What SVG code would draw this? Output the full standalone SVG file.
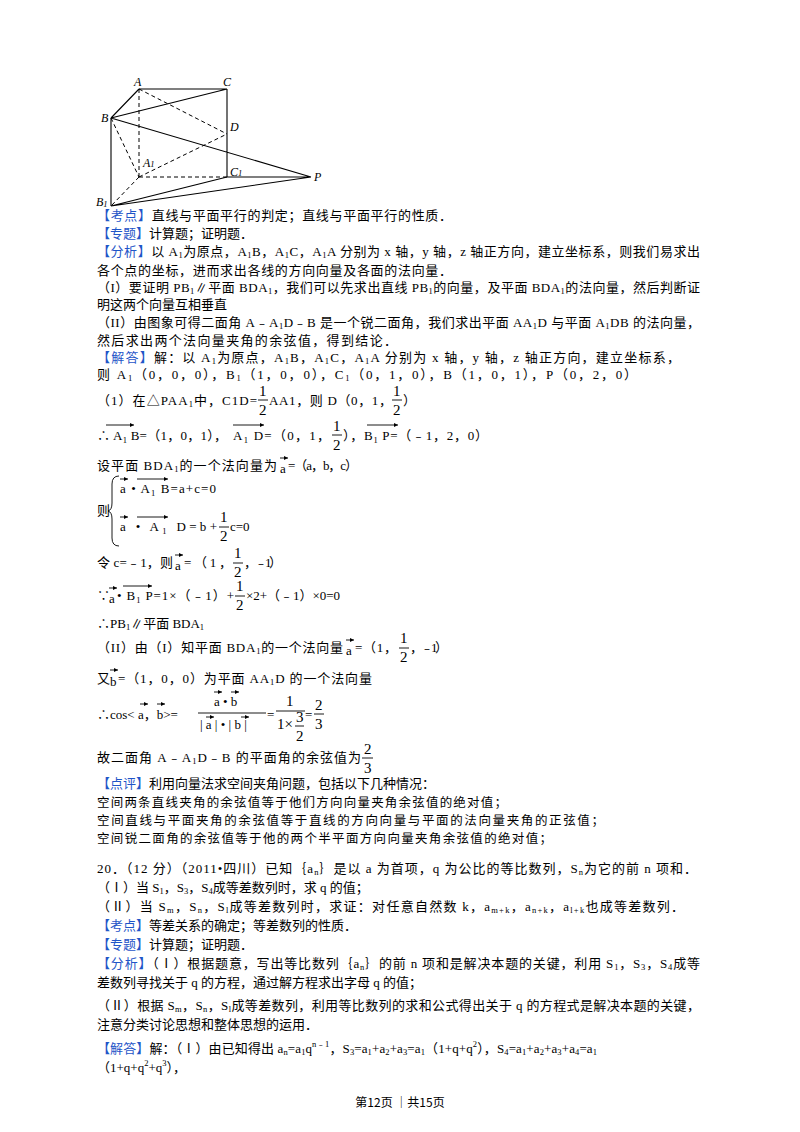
<svg xmlns="http://www.w3.org/2000/svg" width="800" height="1132" viewBox="0 0 800 1132">
<style>
text{font-family:"Liberation Serif","Noto Sans CJK SC",serif;font-size:13px;fill:#000}
.b{fill:#1f55c8}
.s{font-size:8.5px}
.f{font-size:15px}
.it{font-style:italic;font-size:12px}
.n{font-family:"Noto Sans CJK SC",sans-serif;font-size:12.5px}
.sol{stroke:#000;stroke-width:1.1;fill:none}
.das{stroke:#000;stroke-width:1;fill:none;stroke-dasharray:4 3}
.ln{stroke:#000;stroke-width:0.9;fill:none}
</style>
<rect width="800" height="1132" fill="#fff"/>
<g id="figure">
<g id="connectors">
<path class="sol" d="M139,89H227M111,118L139,89M111,118L227,89M111,118L311,177M227,89V177M227,177H311M111,118V206M111,206L227,177M111,206L311,177"/>
<path class="das" d="M139,89V177M139,89L227,134M111,118L139,177M139,177L227,134M139,177H227M139,177L111,206"/>
</g>
<g id="lbl"><text class="it" x="134" y="86">A</text><text class="it" x="223" y="86">C</text><text class="it" x="101" y="122">B</text><text class="it" x="230" y="131">D</text><text class="it" x="143" y="167">A<tspan class="s">1</tspan></text><text class="it" x="230" y="176">C<tspan class="s">1</tspan></text><text class="it" x="314" y="181">P</text><text class="it" x="96" y="206">B<tspan class="s" dy="1">1</tspan></text></g>
</g>
<g id="body">
<text x="97" y="220" textLength="355"><tspan class="b">【考点】</tspan>直线与平面平行的判定；直线与平面平行的性质．</text>
<text x="97" y="238"><tspan class="b">【专题】</tspan>计算题；证明题．</text>
<text x="97" y="256" textLength="603"><tspan class="b">【分析】</tspan>以 A<tspan class="s" dy="2">1</tspan><tspan dy="-2">为原点，A</tspan><tspan class="s" dy="2">1</tspan><tspan dy="-2">B，A</tspan><tspan class="s" dy="2">1</tspan><tspan dy="-2">C，A</tspan><tspan class="s" dy="2">1</tspan><tspan dy="-2">A 分别为 x 轴，y 轴，z 轴正方向，建立坐标系，则我们易求出</tspan></text>
<text x="97" y="275" textLength="355">各个点的坐标，进而求出各线的方向向量及各面的法向量．</text>
<text x="97" y="292" textLength="603">（I）要证明 PB<tspan class="s" dy="2">1</tspan><tspan dy="-2">∥平面 BDA</tspan><tspan class="s" dy="2">1</tspan><tspan dy="-2">，我们可以先求出直线 PB</tspan><tspan class="s" dy="2">1</tspan><tspan dy="-2">的向量，及平面 BDA</tspan><tspan class="s" dy="2">1</tspan><tspan dy="-2">的法向量，然后判断证</tspan></text>
<text x="97" y="309">明这两个向量互相垂直</text>
<text x="97" y="327" textLength="603">（II）由图象可得二面角 A﹣A<tspan class="s" dy="2">1</tspan><tspan dy="-2">D﹣B 是一个锐二面角，我们求出平面 AA</tspan><tspan class="s" dy="2">1</tspan><tspan dy="-2">D 与平面 A</tspan><tspan class="s" dy="2">1</tspan><tspan dy="-2">DB 的法向量，</tspan></text>
<text x="97" y="345" textLength="300">然后求出两个法向量夹角的余弦值，得到结论．</text>
<text x="97" y="362" textLength="583"><tspan class="b">【解答】</tspan>解：以 A<tspan class="s" dy="2">1</tspan><tspan dy="-2">为原点，A</tspan><tspan class="s" dy="2">1</tspan><tspan dy="-2">B，A</tspan><tspan class="s" dy="2">1</tspan><tspan dy="-2">C，A</tspan><tspan class="s" dy="2">1</tspan><tspan dy="-2">A 分别为 x 轴，y 轴，z 轴正方向，建立坐标系，</tspan></text>
<text x="97" y="379" textLength="540">则 A<tspan class="s" dy="2">1</tspan><tspan dy="-2">（0，0，0），B</tspan><tspan class="s" dy="2">1</tspan><tspan dy="-2">（1，0，0），C</tspan><tspan class="s" dy="2">1</tspan><tspan dy="-2">（0，1，0），B（1，0，1），P（0，2，0）</tspan></text>
<text x="97" y="405" textLength="160">（1）在△PAA<tspan class="s" dy="2">1</tspan><tspan dy="-2">中，C1D=</tspan></text>
<text class="f" x="259" y="396">1</text><path class="ln" d="M258,400H268"/><text class="f" x="259" y="415">2</text>
<text x="269" y="405" textLength="123">AA1，则 D（0，1，</text>
<text class="f" x="393" y="396">1</text><path class="ln" d="M392,400H402"/><text class="f" x="393" y="415">2</text>
<text x="403" y="405">）</text>
<text x="97" y="440" textLength="130">∴ A<tspan class="s" dy="3">1</tspan><tspan dy="-3"> B=（1，0，1），</tspan></text>
<text x="233" y="440" textLength="97">A<tspan class="s" dy="3">1</tspan><tspan dy="-3"> D=（0，1，</tspan></text>
<text class="f" x="333" y="431">1</text><path class="ln" d="M332,435H342"/><text class="f" x="333" y="450">2</text>
<text x="343" y="440" textLength="145">），B<tspan class="s" dy="3">1</tspan><tspan dy="-3"> P=（﹣1，2，0）</tspan></text>
<g id="vecs1"><path class="ln" d="M106,425H134M233,425H264M367,425H398"/><path d="M134,425l-4,-2v4z M264,425l-4,-2v4z M398,425l-4,-2v4z"/></g>
<text x="97" y="470" textLength="180">设平面 BDA<tspan class="s" dy="2">1</tspan><tspan dy="-2">的一个法向量为</tspan></text>
<text x="280" y="473">a</text><path class="ln" d="M280,458H288"/><path d="M288,458l-4,-2v4z"/>
<text x="288" y="470" textLength="70">=（a，b，c）</text>
<text x="97" y="515">则</text>
<path class="ln" d="M119,476Q112,476 112,484V503Q112,510 108,511Q112,512 112,519V538Q112,546 119,546"/>
<text x="120" y="493" textLength="96">a • A<tspan class="s" dy="3">1</tspan><tspan dy="-3"> B=a+c=0</tspan></text>
<path class="ln" d="M120,479H128M137,479H168"/><path d="M128,479l-4,-2v4z M168,479l-4,-2v4z"/>
<text x="120" y="531" textLength="97">a • A<tspan class="s" dy="3">1</tspan><tspan dy="-3"> D=b+</tspan></text>
<text class="f" x="220" y="522">1</text><path class="ln" d="M219,527H229"/><text class="f" x="220" y="541">2</text>
<text x="230" y="531">c=0</text>
<path class="ln" d="M120,517H128M137,517H168"/><path d="M128,517l-4,-2v4z M168,517l-4,-2v4z"/>
<text x="97" y="567" textLength="76">令 c=﹣1，则</text>
<text x="175" y="570">a</text><path class="ln" d="M175,555H183"/><path d="M183,555l-4,-2v4z"/>
<text x="184" y="567" textLength="48">=（1，</text>
<text class="f" x="234" y="558">1</text><path class="ln" d="M233,563H243"/><text class="f" x="234" y="577">2</text>
<text x="244" y="567" textLength="38">，﹣1）</text>
<text x="97" y="600">∵</text>
<text x="109" y="603">a</text><path class="ln" d="M109,588H117"/><path d="M117,588l-4,-2v4z"/>
<text x="117" y="600" textLength="117">• B<tspan class="s" dy="3">1</tspan><tspan dy="-3"> P=1×（﹣1）+</tspan></text>
<path class="ln" d="M123,586H152"/><path d="M152,586l-4,-2v4z"/>
<text class="f" x="236" y="591">1</text><path class="ln" d="M235,596H245"/><text class="f" x="236" y="610">2</text>
<text x="246" y="600" textLength="94">×2+（﹣1）×0=0</text>
<text x="97" y="628">∴PB<tspan class="s" dy="2">1</tspan><tspan dy="-2">∥平面 BDA</tspan><tspan class="s" dy="2">1</tspan></text>
<text x="97" y="652" textLength="246">（II）由（I）知平面 BDA<tspan class="s" dy="2">1</tspan><tspan dy="-2">的一个法向量</tspan></text>
<text x="346" y="655">a</text><path class="ln" d="M346,640H354"/><path d="M354,640l-4,-2v4z"/>
<text x="355" y="652" textLength="42">=（1，</text>
<text class="f" x="400" y="643">1</text><path class="ln" d="M399,648H409"/><text class="f" x="400" y="662">2</text>
<text x="410" y="652" textLength="38">，﹣1）</text>
<text x="97" y="683">又</text>
<text x="110" y="686">b</text><path class="ln" d="M110,670H118"/><path d="M118,670l-4,-2v4z"/>
<text x="118" y="683" textLength="254">=（1，0，0）为平面 AA<tspan class="s" dy="2">1</tspan><tspan dy="-2">D 的一个法向量</tspan></text>
<text x="97" y="719">∴cos&lt; a，b&gt;=</text>
<path class="ln" d="M140,704H148M157,704H165"/><path d="M148,704l-4,-2v4z M165,704l-4,-2v4z"/>
<text x="214" y="706">a • b</text>
<path class="ln" d="M214,692H222M231,692H239"/><path d="M222,692l-4,-2v4z M239,692l-4,-2v4z"/>
<path class="ln" d="M198,713H266"/>
<text x="200" y="729">| a | • | b |</text>
<path class="ln" d="M206,717H214M241,717H249"/><path d="M214,717l-4,-2v4z M249,717l-4,-2v4z"/>
<text x="267" y="719">=</text>
<text class="f" x="286" y="706">1</text><path class="ln" d="M276,711H305"/>
<text class="f" x="277" y="729">1×</text><text class="f" x="296" y="722">3</text><path class="ln" d="M295,726H304"/><text class="f" x="296" y="741">2</text>
<text x="305" y="719">=</text>
<text class="f" x="315" y="710">2</text><path class="ln" d="M314,714H324"/><text class="f" x="315" y="729">3</text>
<text x="97" y="762" textLength="264">故二面角 A﹣A<tspan class="s" dy="2">1</tspan><tspan dy="-2">D﹣B 的平面角的余弦值为</tspan></text>
<text class="f" x="364" y="754">2</text><path class="ln" d="M362,758H373"/><text class="f" x="364" y="773">3</text>
<text x="97" y="788"><tspan class="b">【点评】</tspan>利用向量法求空间夹角问题，包括以下几种情况：</text>
<text class="n" x="97" y="807" textLength="410">空间两条直线夹角的余弦值等于他们方向向量夹角余弦值的绝对值；</text>
<text class="n" x="97" y="825" textLength="507">空间直线与平面夹角的余弦值等于直线的方向向量与平面的法向量夹角的正弦值；</text>
<text class="n" x="97" y="843" textLength="455">空间锐二面角的余弦值等于他的两个半平面方向向量夹角余弦值的绝对值；</text>
<text x="97" y="873" textLength="600">20．（12 分）（2011•四川）已知｛a<tspan class="s" dy="2">n</tspan><tspan dy="-2">｝是以 a 为首项，q 为公比的等比数列，S</tspan><tspan class="s" dy="2">n</tspan><tspan dy="-2">为它的前 n 项和．</tspan></text>
<text x="97" y="892">（Ⅰ）当 S<tspan class="s" dy="2">1</tspan><tspan dy="-2">，S</tspan><tspan class="s" dy="2">3</tspan><tspan dy="-2">，S</tspan><tspan class="s" dy="2">4</tspan><tspan dy="-2">成等差数列时，求 q 的值；</tspan></text>
<text x="97" y="911" textLength="587">（Ⅱ）当 S<tspan class="s" dy="2">m</tspan><tspan dy="-2">，S</tspan><tspan class="s" dy="2">n</tspan><tspan dy="-2">，S</tspan><tspan class="s" dy="2">l</tspan><tspan dy="-2">成等差数列时，求证：对任意自然数 k，a</tspan><tspan class="s" dy="2">m+k</tspan><tspan dy="-2">，a</tspan><tspan class="s" dy="2">n+k</tspan><tspan dy="-2">，a</tspan><tspan class="s" dy="2">l+k</tspan><tspan dy="-2">也成等差数列．</tspan></text>
<text x="97" y="930"><tspan class="b">【考点】</tspan>等差关系的确定；等差数列的性质．</text>
<text x="97" y="949"><tspan class="b">【专题】</tspan>计算题；证明题．</text>
<text x="97" y="968" textLength="603"><tspan class="b">【分析】</tspan>（Ⅰ）根据题意，写出等比数列｛a<tspan class="s" dy="2">n</tspan><tspan dy="-2">｝的前 n 项和是解决本题的关键，利用 S</tspan><tspan class="s" dy="2">1</tspan><tspan dy="-2">，S</tspan><tspan class="s" dy="2">3</tspan><tspan dy="-2">，S</tspan><tspan class="s" dy="2">4</tspan><tspan dy="-2">成等</tspan></text>
<text x="97" y="987">差数列寻找关于 q 的方程，通过解方程求出字母 q 的值；</text>
<text x="97" y="1010" textLength="603">（Ⅱ）根据 S<tspan class="s" dy="2">m</tspan><tspan dy="-2">，S</tspan><tspan class="s" dy="2">n</tspan><tspan dy="-2">，S</tspan><tspan class="s" dy="2">l</tspan><tspan dy="-2">成等差数列，利用等比数列的求和公式得出关于 q 的方程式是解决本题的关键，</tspan></text>
<text x="97" y="1029">注意分类讨论思想和整体思想的运用．</text>
<text x="97" y="1053" textLength="500"><tspan class="b">【解答】</tspan>解：（Ⅰ）由已知得出 a<tspan class="s" dy="2">n</tspan><tspan dy="-2">=a</tspan><tspan class="s" dy="2">1</tspan><tspan dy="-2">q</tspan><tspan class="s" dy="-6">n﹣1</tspan><tspan dy="6">，S</tspan><tspan class="s" dy="2">3</tspan><tspan dy="-2">=a</tspan><tspan class="s" dy="2">1</tspan><tspan dy="-2">+a</tspan><tspan class="s" dy="2">2</tspan><tspan dy="-2">+a</tspan><tspan class="s" dy="2">3</tspan><tspan dy="-2">=a</tspan><tspan class="s" dy="2">1</tspan><tspan dy="-2">（1+q+q</tspan><tspan class="s" dy="-6">2</tspan><tspan dy="6">），S</tspan><tspan class="s" dy="2">4</tspan><tspan dy="-2">=a</tspan><tspan class="s" dy="2">1</tspan><tspan dy="-2">+a</tspan><tspan class="s" dy="2">2</tspan><tspan dy="-2">+a</tspan><tspan class="s" dy="2">3</tspan><tspan dy="-2">+a</tspan><tspan class="s" dy="2">4</tspan><tspan dy="-2">=a</tspan><tspan class="s" dy="2">1</tspan></text>
<text x="97" y="1072">（1+q+q<tspan class="s" dy="-6">2</tspan><tspan dy="6">+q</tspan><tspan class="s" dy="-6">3</tspan><tspan dy="6">），</tspan></text>
<text class="n" x="400" y="1107" text-anchor="middle" style="font-size:12px">第12页 ｜共15页</text>
</g>
</svg>
